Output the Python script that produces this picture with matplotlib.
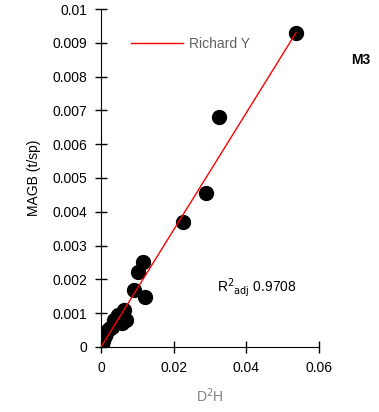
import matplotlib.pyplot as plt

plt.rcParams['font.family'] = ['Liberation Sans', 'DejaVu Sans']

# dados observados (D2H, MAGB)
d2h = [0.0537, 0.0325, 0.0289, 0.0226, 0.0116, 0.0102, 0.0121, 0.0091,
       0.0063, 0.0069, 0.0052, 0.0041, 0.0030, 0.0019, 0.0011, 0.0006,
       0.0003, 0.0036, 0.0047, 0.0025, 0.0014, 0.0058, 0.0044]
magb = [0.00929, 0.0068, 0.00456, 0.0037, 0.00251, 0.00222, 0.00148, 0.00169,
        0.0011, 0.0008, 0.00086, 0.00074, 0.0006, 0.0005, 0.00033, 0.00018,
        0.00006, 0.0008, 0.00095, 0.00055, 0.0004, 0.00072, 0.00088]

# modelo ajustado (Richard Y)
coef = 0.1732
x_fit = [0, 0.0537]
y_fit = [coef * x for x in x_fit]

fig = plt.figure(figsize=(3.79, 4.12), dpi=100)
ax = fig.add_axes([0.2665, 0.158, 0.575, 0.820])

ax.scatter(d2h, magb, s=100, color='black', zorder=2)
ax.plot(x_fit, y_fit, color='red', lw=1, zorder=3, label='Richard Y')

ax.set_xlim(0, 0.06)
ax.set_ylim(0, 0.01)
ax.set_xticks([0, 0.02, 0.04, 0.06])
ax.set_xticklabels(['0', '0.02', '0.04', '0.06'])
ax.set_yticks([i * 0.001 for i in range(11)])
ax.set_yticklabels(['0', '0.001', '0.002', '0.003', '0.004', '0.005',
                    '0.006', '0.007', '0.008', '0.009', '0.01'])
ax.tick_params(direction='inout', length=8, width=1, labelsize=10, pad=6)
ax.spines['top'].set_visible(False)
ax.spines['right'].set_visible(False)

ax.set_xlabel('D$^2$H', color='#808080', fontsize=10, labelpad=8)
ax.set_ylabel('MAGB (t/sp)', fontsize=10, labelpad=8)

ax.legend(loc='upper left', bbox_to_anchor=(0.08, 0.955), frameon=False,
          fontsize=10, handlelength=3.75, handletextpad=0.45,
          labelcolor='#606060')

ax.text(0.53, 0.165, 'R$^2$$_{\\mathrm{adj}}$ 0.9708', transform=ax.transAxes,
        fontsize=10)
fig.text(0.953, 0.845, 'M3', fontsize=10, fontweight='bold', ha='center')

plt.savefig('out.png', dpi=100)
